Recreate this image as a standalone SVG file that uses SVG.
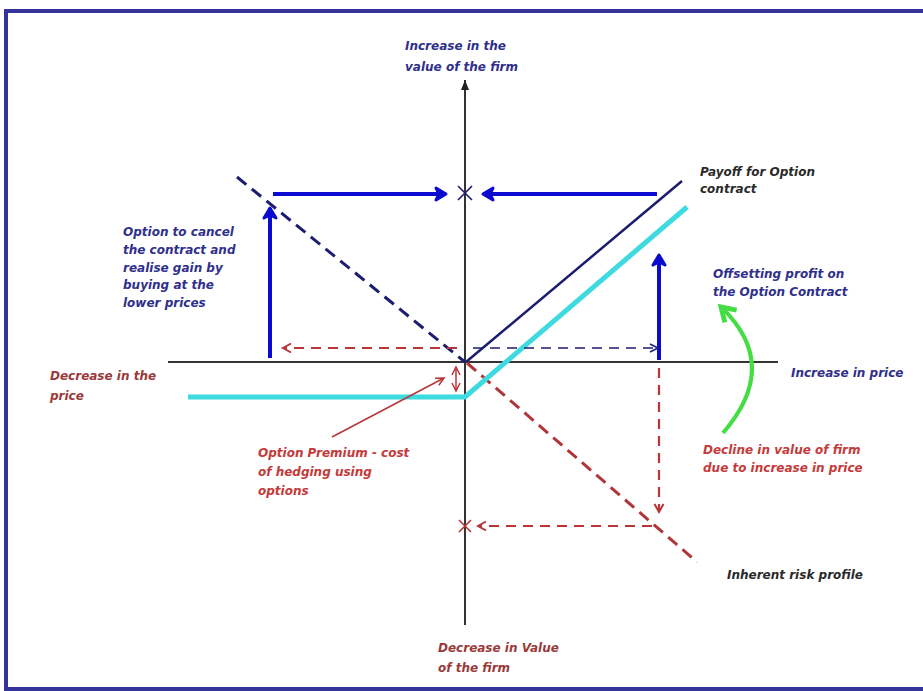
<svg xmlns="http://www.w3.org/2000/svg" width="923" height="691" viewBox="0 0 923 691">
<style>
  text { font-family: "DejaVu Sans", "Liberation Sans", sans-serif; font-weight: bold; font-style: italic; font-size: 12px; }
  .navy { fill: #2f2f8c; }
  .dark { fill: #2a2a2a; }
  .red { fill: #c43a3a; }
  .dred { fill: #9a3a3a; }
  .axis { stroke: #333; stroke-width: 2; fill: none; }
  .blue { stroke: #0a0ad0; stroke-width: 4; fill: none; }
  .rdash { stroke: #b8353a; stroke-width: 2.2; stroke-dasharray: 10 7; fill: none; }
  .ndash { stroke: #1c1c70; stroke-width: 1.6; stroke-dasharray: 10 7; fill: none; }
</style>
<defs>
  <marker id="blueHead" markerUnits="userSpaceOnUse" markerWidth="20" markerHeight="20" refX="14" refY="8" orient="auto" viewBox="0 0 20 16">
    <path d="M4,2 L14,8 L4,14 L7,8 Z" fill="#0a0ad0" stroke="#0a0ad0" stroke-width="3" stroke-linejoin="round"/>
  </marker>
  <marker id="redHead" markerUnits="userSpaceOnUse" markerWidth="14" markerHeight="14" refX="11" refY="6" orient="auto" viewBox="0 0 14 12">
    <path d="M3,1.5 L11,6 L3,10.5" fill="none" stroke="#b8353a" stroke-width="2"/>
  </marker>
  <marker id="redThin" markerUnits="userSpaceOnUse" markerWidth="12" markerHeight="12" refX="10" refY="5" orient="auto-start-reverse" viewBox="0 0 12 10">
    <path d="M2,1 L10,5 L2,9" fill="none" stroke="#b8353a" stroke-width="1.5"/>
  </marker>
  <marker id="navyHead" markerUnits="userSpaceOnUse" markerWidth="12" markerHeight="12" refX="10" refY="5" orient="auto" viewBox="0 0 12 10">
    <path d="M2,1 L10,5 L2,9" fill="none" stroke="#1c1c70" stroke-width="1.6"/>
  </marker>
  <marker id="axisHead" markerUnits="userSpaceOnUse" markerWidth="12" markerHeight="12" refX="10" refY="5" orient="auto" viewBox="0 0 12 10">
    <path d="M0,1 L10,5 L0,9 Z" fill="#222"/>
  </marker>
  <marker id="greenHead" markerUnits="userSpaceOnUse" markerWidth="22" markerHeight="22" refX="14" refY="9" orient="auto" viewBox="0 0 18 18">
    <path d="M3,2 L14,9 L3,16" fill="none" stroke="#44dd44" stroke-width="4"/>
  </marker>
</defs>
<rect x="0" y="0" width="923" height="691" fill="#ffffff"/>
<rect id="frame" x="6" y="11" width="940" height="678" fill="none" stroke="#333399" stroke-width="4"/>

<g id="axes">
  <line class="axis" x1="465" y1="625" x2="465" y2="80" marker-end="url(#axisHead)"/>
  <line class="axis" x1="168" y1="362" x2="778" y2="362"/>
</g>

<g id="connectors">
  <line x1="466" y1="362" x2="682" y2="181" stroke="#1c1c70" stroke-width="2.5"/>
  <line x1="237" y1="177" x2="465" y2="362" stroke="#1c1c70" stroke-width="3" stroke-dasharray="12 7"/>
  <line x1="467" y1="363" x2="697" y2="562" stroke="#b03538" stroke-width="3" stroke-dasharray="12 7"/>
  <polyline points="188,397 465,397 687,207" fill="none" stroke="#3ddbe0" stroke-width="5"/>
  <line class="blue" x1="270" y1="358" x2="270" y2="208" marker-end="url(#blueHead)"/>
  <line class="blue" x1="273" y1="194" x2="446" y2="194" marker-end="url(#blueHead)"/>
  <line class="blue" x1="657" y1="194" x2="483" y2="194" marker-end="url(#blueHead)"/>
  <line class="blue" x1="659" y1="360" x2="659" y2="255" marker-end="url(#blueHead)"/>
  <line class="ndash" x1="473" y1="348" x2="658" y2="348" marker-end="url(#navyHead)"/>
  <line class="rdash" x1="457" y1="348" x2="283" y2="348" marker-end="url(#redHead)"/>
  <line class="rdash" x1="659" y1="368" x2="659" y2="512" marker-end="url(#redHead)"/>
  <line class="rdash" x1="652" y1="526" x2="478" y2="526" marker-end="url(#redHead)"/>
  <line x1="456" y1="367" x2="456" y2="391" stroke="#b8353a" stroke-width="1.5" marker-start="url(#redThin)" marker-end="url(#redThin)"/>
  <line x1="332" y1="437" x2="444" y2="378" stroke="#b8353a" stroke-width="1.5" marker-end="url(#redThin)"/>
  <path d="M723,433 Q782,365 721,307" fill="none" stroke="#44dd44" stroke-width="4" marker-end="url(#greenHead)"/>
  <path d="M458,186 L472,200 M472,186 L458,200" stroke="#1c1c70" stroke-width="1.6"/>
  <path d="M459,520 L471,532 M471,520 L459,532" stroke="#b8353a" stroke-width="1.6"/>
</g>

<g id="label-top">
  <text class="navy" x="405" y="50">Increase in the<tspan x="405" dy="21">value of the firm</tspan></text>
</g>
<g id="label-cancel">
  <text class="navy" x="123" y="236">Option to cancel<tspan x="123" dy="17.8">the contract and</tspan><tspan x="123" dy="17.8">realise gain by</tspan><tspan x="123" dy="17.8">buying at the</tspan><tspan x="123" dy="17.8">lower prices</tspan></text>
</g>
<g id="label-payoff">
  <text class="dark" x="700" y="176">Payoff for Option<tspan x="700" dy="17">contract</tspan></text>
</g>
<g id="label-offset">
  <text class="navy" x="713" y="278">Offsetting profit on<tspan x="713" dy="18">the Option Contract</tspan></text>
</g>
<g id="label-increase-price">
  <text class="navy" x="791" y="377">Increase in price</text>
</g>
<g id="label-decrease-price">
  <text class="dred" x="50" y="380">Decrease in the<tspan x="50" dy="20">price</tspan></text>
</g>
<g id="label-premium">
  <text class="red" x="258" y="457">Option Premium - cost<tspan x="258" dy="19">of hedging using</tspan><tspan x="258" dy="19">options</tspan></text>
</g>
<g id="label-decline">
  <text class="red" x="703" y="454">Decline in value of firm<tspan x="703" dy="18">due to increase in price</tspan></text>
</g>
<g id="label-inherent">
  <text class="dark" x="727" y="579">Inherent risk profile</text>
</g>
<g id="label-bottom">
  <text class="dred" x="438" y="652">Decrease in Value<tspan x="438" dy="20">of the firm</tspan></text>
</g>
</svg>
